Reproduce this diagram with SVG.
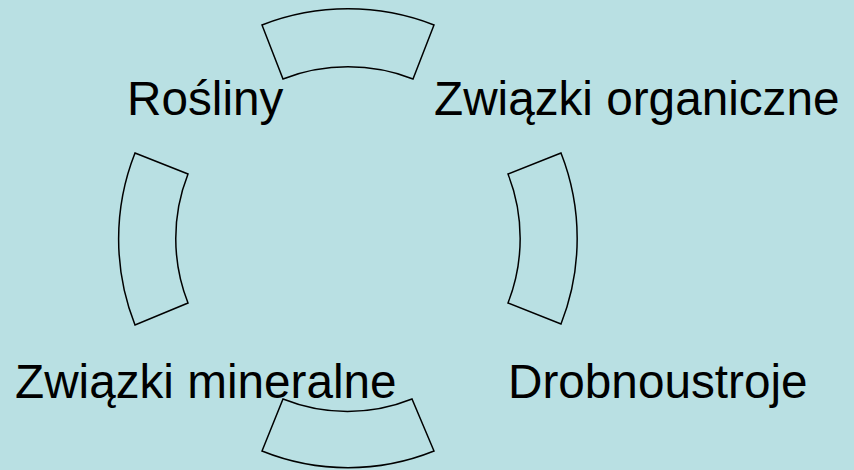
<svg xmlns="http://www.w3.org/2000/svg" width="854" height="470" viewBox="0 0 854 470">
<style>
.seg{fill:none;stroke:#000;stroke-width:1.5;stroke-linejoin:miter}
.lbl{font-family:"Liberation Sans",Arial,sans-serif;font-size:47.7px;fill:#000}
</style>
<rect x="0" y="0" width="854" height="470" fill="#B9E0E3"/>
<g id="labels-under">
<g id="node-rosliny"><text class="lbl" x="127" y="114.5">Rośliny</text></g>
<g id="node-organiczne"><text class="lbl" x="434" y="114.5">Związki organiczne</text></g>
<g id="node-drobnoustroje"><text class="lbl" x="508" y="397.7">Drobnoustroje</text></g>
<g id="node-mineralne"><text class="lbl" x="15" y="397.5">Związki mineralne</text></g>
</g>
<g id="connectors">
<path id="arc-top" class="seg" d="M262,25 A237,237 0 0 1 434,25 L413,79 A180,180 0 0 0 283,79 Z"/>
<path id="arc-right" class="seg" d="M561,153 L508,174 A177,177 0 0 1 508,303 L561,324 A234,234 0 0 0 561,153 Z"/>
<path id="arc-bottom" class="seg" d="M283,399 A173,173 0 0 0 412,399 L434,451 A230,230 0 0 1 262,451 Z"/>
<path id="arc-left" class="seg" d="M135,153 L188,174 A176,176 0 0 0 188,303 L135,325 A234,234 0 0 1 135,153 Z"/>
</g>
</svg>
